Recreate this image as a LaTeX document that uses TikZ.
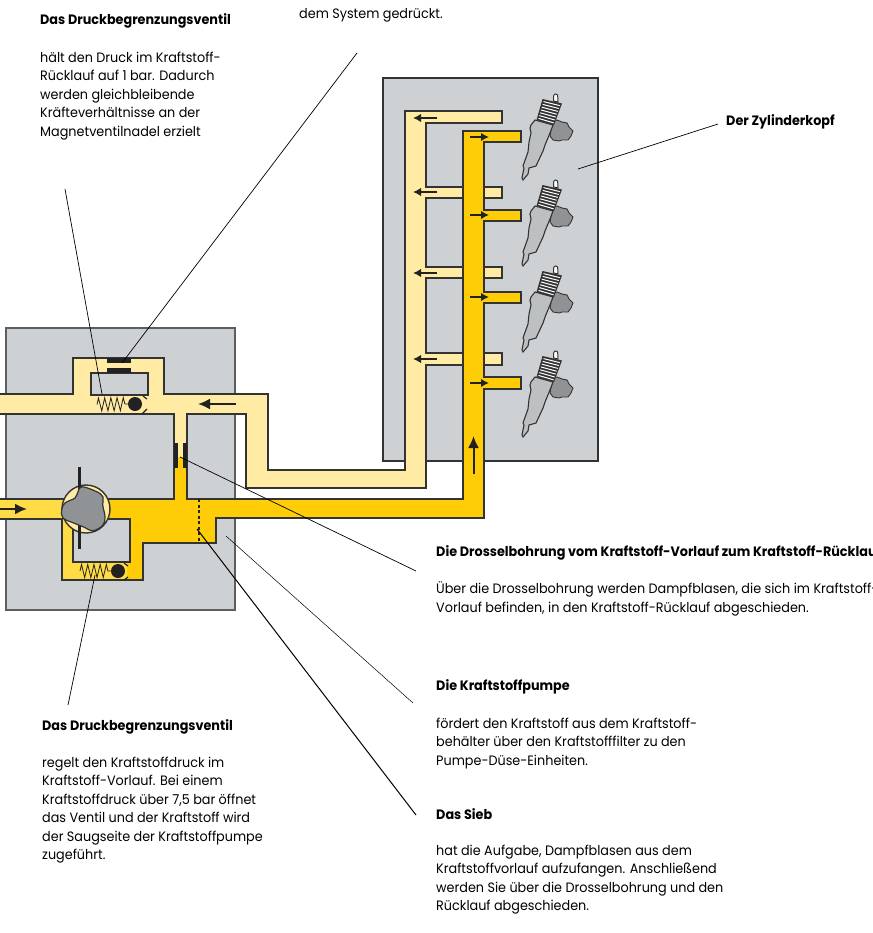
\documentclass[tikz,border=0pt]{standalone}
\usepackage{fontspec}
\setmainfont[FakeStretch=0.94]{Poppins}
\usetikzlibrary{arrows.meta,positioning,calc,decorations.pathmorphing}
\definecolor{Block}{HTML}{CED1D4}
\definecolor{Edge}{HTML}{333333}
\definecolor{BlockEdge}{HTML}{5C5E60}
\definecolor{ReturnFuel}{HTML}{FFEBA3}
\definecolor{FeedFuel}{HTML}{FFCC08}
\definecolor{InletFuel}{HTML}{FFDB45}
\definecolor{Rotor}{HTML}{909396}
\definecolor{Body}{HTML}{BDC0C3}
\definecolor{Ink}{HTML}{222222}
\tikzset{
  head/.style={anchor=west,inner sep=0pt,font=\fontsize{13.6}{18.5}\selectfont\bfseries},
  copy/.style={anchor=north west,inner sep=0pt,align=left,font=\fontsize{13.6}{18.5}\selectfont},
  leader/.style={draw=black,line width=0.7pt},
  pipe/.style={draw=Edge,line width=1.4pt,line join=miter},
  flowarrow/.style={-{Latex[length=8pt,width=8.5pt]},line width=1.6pt,draw=Ink},
  bigarrow/.style={-{Latex[length=12pt,width=11pt]},line width=2pt,draw=Ink},
  bar/.style={fill=Ink},
  ball/.style={circle,fill=Ink,minimum size=14pt,inner sep=0pt},
  spring/.style={draw=Ink,line width=0.8pt,decorate,decoration={zigzag,segment length=6.2pt,amplitude=6.5pt}},
  seat/.style={draw=Ink,line width=1.1pt},
  injector/.pic={
    \draw[draw=Edge,line width=0.9pt,fill=Rotor] (38,31) -- (42,30) -- (47,32) -- (52,33) -- (54,37) -- (58,41) -- (56,46) -- (53,50) -- (47,50) -- (44,51) -- (38,50) -- (35,46) -- (36,40) -- cycle;
    \draw[draw=Edge,line width=1.1pt,fill=Body] (16,35) -- (20,30) -- (38,35) -- (35,43) -- (30,55) -- (28,61) -- (21,76) -- (14,78) -- (13,84) -- (8,90) -- (7,88) -- (9,78) -- (8,76) -- (13,62) -- (14,52) -- (16,43) -- (15,38) -- cycle;
    \draw[draw=Edge,line width=1pt,fill=white] (38.5,11) -- (38.7,6) arc[start angle=180,end angle=0,radius=2pt] -- (43,12) -- cycle;
    \fill[Edge] (27.5,9) -- (47,13.5) -- (39,35) -- (21.5,30) -- cycle;
    \foreach \t in {0.08,0.22,0.36,0.5,0.64,0.78,0.92}
      \draw[white,line width=1pt] ($(29,10)!\t!(23,30)$) -- ($(45.5,14)!\t!(38,34.5)$);
  }
}
\begin{document}
\begin{tikzpicture}[x=1pt,y=-1pt]
  \useasboundingbox (0,0) rectangle (872,933);
  \clip (0,0) rectangle (872,933);

  % housings
  \draw[fill=Block,draw=BlockEdge,line width=1.2pt] (6,328) rectangle (235,610);
  \draw[fill=Block,draw=Edge,line width=1.2pt] (383,78) rectangle (598,461);

  % return line
  \draw[pipe,fill=ReturnFuel] (174,457) -- (174,414) -- (-5,414) -- (-5,394) -- (73,394) -- (73,358) -- (164,358) -- (164,394) -- (268,394) -- (268,470) -- (405,470) -- (405,111) -- (502,111) -- (502,123) -- (426,123) -- (426,187) -- (502,187) -- (502,198) -- (426,198) -- (426,267) -- (502,267) -- (502,278) -- (426,278) -- (426,353) -- (502,353) -- (502,365) -- (426,365) -- (426,488) -- (246,488) -- (246,414) -- (187,414) -- (187,457);
  \draw[pipe,fill=Block] (91,373) rectangle (148,395);

  % feed line
  \draw[pipe,fill=FeedFuel] (174,457) -- (174,499) -- (-5,499) -- (-5,519) -- (62,519) -- (62,580) -- (143,580) -- (143,543) -- (216,543) -- (216,518) -- (484,518) -- (484,389) -- (521,389) -- (521,377) -- (484,377) -- (484,303) -- (521,303) -- (521,292) -- (484,292) -- (484,221) -- (521,221) -- (521,210) -- (484,210) -- (484,142) -- (521,142) -- (521,131) -- (463,131) -- (463,499) -- (187,499) -- (187,457);
  \fill[InletFuel] (0,500) rectangle (86,518);
  \fill[InletFuel] (63,518) rectangle (127,579);
  \draw[pipe,fill=Block] (73,519) rectangle (130,562);

  % throttles
  \fill[bar] (107,358) rectangle (131,363);
  \fill[bar] (107,368) rectangle (131,373);
  \fill[bar] (174,443) rectangle (178,468);
  \fill[bar] (183,443) rectangle (187,468);
  \draw[Ink,line width=1.3pt,dash pattern=on 3pt off 2.5pt] (199,499) -- (199,543);

  % valves
  \node[ball] (upperball) at (135,404) {};
  \draw[spring] (97,404.5) -- (upperball.west);
  \draw[seat] (143,396) -- (147,399);
  \draw[seat] (147,409) -- (142,414);
  \node[ball] (lowerball) at (118,571) {};
  \draw[spring] (80,571) -- (lowerball.west);
  \draw[seat] (124,563) -- (128,566);
  \draw[seat] (128,577) -- (124,580);

  % pump
  \node[circle,draw=Edge,line width=1.4pt,fill=ReturnFuel,minimum size=48pt,inner sep=0pt] (pump) at (86,509) {};
  \fill[Ink] (78.2,467) rectangle (81,549);
  \draw[draw=Edge,line width=1.2pt,fill=Rotor] plot[smooth cycle,tension=0.6] coordinates {(82,486.7) (96.7,491.7) (103,497) (102.7,505) (105,516.7) (103,525) (93,530.7) (83,526.7) (73,522.7) (63,518) (61.7,510) (65,503) (75,498) (78,491.7)};

  % arrows
  \draw[bigarrow] (236,404) -- (198,404);
  \draw[bigarrow] (0,509) -- (27,509);
  \draw[bigarrow] (473.5,474) -- (473.5,436);
  \foreach \y in {118,192,273,359}
    \draw[flowarrow] (437,\y) -- (413,\y);
  \foreach \y in {137,215,297,383}
    \draw[flowarrow] (470,\y) -- (489,\y);

  % injectors
  \foreach \y in {90,176,262,347}
    \pic at (515,\y) {injector};

  % texts
  \node[copy] (restover) at (299,8.5) {dem System gedrückt.};
  \node[head] (upperhead) at (40,21) {Das Druckbegrenzungsventil};
  \node[copy,below=23pt of upperhead.south west,anchor=north west] (uppertext) {hält den Druck im Kraftstoff-\\Rücklauf auf 1 bar. Dadurch\\werden gleichbleibende\\Kräfteverhältnisse an der\\Magnetventilnadel erzielt};
  \node[head] (headhead) at (726,122) {Der Zylinderkopf};
  \node[head] (throttlehead) at (436,553) {Die Drosselbohrung vom Kraftstoff-Vorlauf zum Kraftstoff-Rücklauf};
  \node[copy,below=21pt of throttlehead.south west,anchor=north west] (throttletext) {Über die Drosselbohrung werden Dampfblasen, die sich im Kraftstoff-\\Vorlauf befinden, in den Kraftstoff-Rücklauf abgeschieden.};
  \node[head] (pumphead) at (436,687) {Die Kraftstoffpumpe};
  \node[copy,below=23pt of pumphead.south west,anchor=north west] (pumptext) {fördert den Kraftstoff aus dem Kraftstoff-\\behälter über den Kraftstofffilter zu den\\Pumpe-Düse-Einheiten.};
  \node[head] (sievehead) at (436,814) {Das Sieb};
  \node[copy,below=25pt of sievehead.south west,anchor=north west] (sievetext) {hat die Aufgabe, Dampfblasen aus dem\\Kraftstoffvorlauf aufzufangen. Anschließend\\werden Sie über die Drosselbohrung und den\\Rücklauf abgeschieden.};
  \node[head] (lowerhead) at (42,727) {Das Druckbegrenzungsventil};
  \node[copy,below=22pt of lowerhead.south west,anchor=north west] (lowertext) {regelt den Kraftstoffdruck im\\Kraftstoff-Vorlauf. Bei einem\\Kraftstoffdruck über 7,5 bar öffnet\\das Ventil und der Kraftstoff wird\\der Saugseite der Kraftstoffpumpe\\zugeführt.};

  % leaders
  \coordinate (restfree) at (357,53);
  \coordinate (restend) at (122,363);
  \coordinate (upperfree) at (65,189);
  \coordinate (upperend) at (102,394);
  \coordinate (headfree) at (718,124);
  \coordinate (headend) at (578,169);
  \coordinate (throttlefree) at (416,571);
  \coordinate (throttleend) at (180,457);
  \coordinate (pumpfree) at (413,703);
  \coordinate (pumpend) at (226,536);
  \coordinate (sievefree) at (416,815);
  \coordinate (sieveend) at (197,529);
  \coordinate (lowerfree) at (68,705);
  \coordinate (lowerend) at (95,575);
  \draw[leader] (restfree) -- (restend);
  \draw[leader] (upperfree) -- (upperend);
  \draw[leader] (headfree) -- (headend);
  \draw[leader] (throttlefree) -- (throttleend);
  \draw[leader,line width=0.5pt] (pumpfree) -- (pumpend);
  \draw[leader,line width=1pt] (sievefree) -- (sieveend);
  \draw[leader] (lowerfree) -- (lowerend);
\end{tikzpicture}
\end{document}
